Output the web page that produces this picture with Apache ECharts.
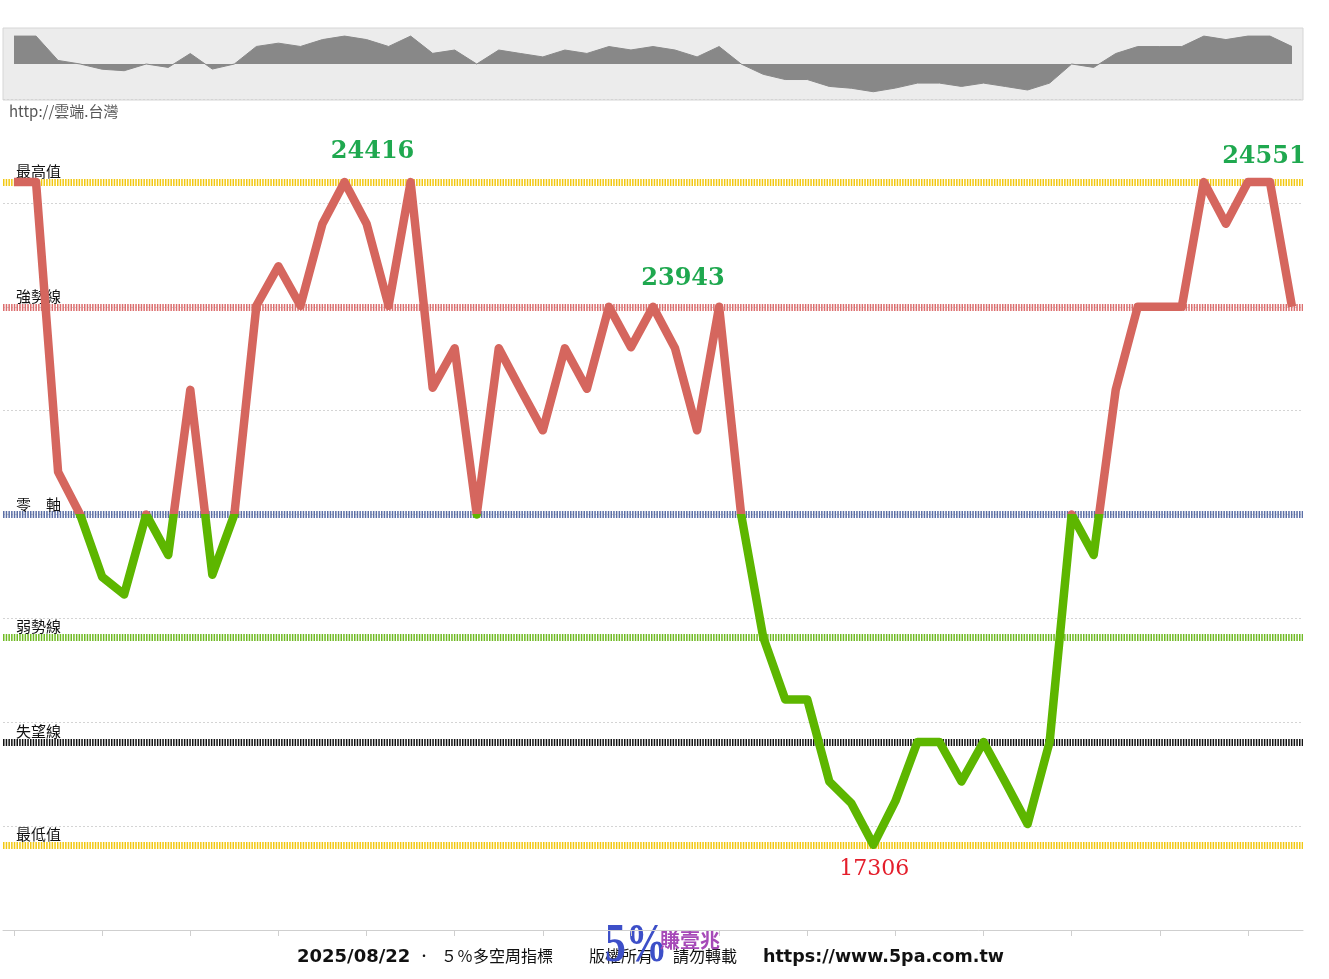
<!DOCTYPE html>
<html>
<head>
<meta charset="utf-8">
<script src="https://cdn.jsdelivr.net/npm/echarts@6/dist/echarts.min.js"></script>
<style>
html,body{margin:0;padding:0;background:#fff;}
#c{width:1329px;height:979px;}
</style>
</head>
<body>
<div id="c"></div>
<script>
// 5% 多空周指標 (weekly values)
const indicator = [
  3.20, 3.20, 0.41, 0.00, -0.60, -0.77, 0.00, -0.39, 1.20, -0.58,
  0.00, 2.01, 2.39, 2.01, 2.80, 3.20, 2.80, 2.01, 3.20, 1.22,
  1.60, 0.00, 1.60, 1.20, 0.81, 1.60, 1.21, 2.00, 1.61, 2.00,
  1.60, 0.81, 2.00, 0.00, -1.18, -1.78, -1.78, -2.57, -2.78, -3.18,
  -2.76, -2.19, -2.19, -2.57, -2.19, -2.58, -2.98, -2.19, 0.00, -0.39,
  1.20, 2.00, 2.00, 2.00, 3.20, 2.80, 3.20, 3.20, 2.00
];
const weeks = indicator.map((_, i) => String(i + 1));

// reference levels
const levelNames  = ['最高值', '強勢線', '零　軸', '弱勢線', '失望線', '最低值'];
const levelValues = [3.20, 2.00, 0.00, -1.18, -2.19, -3.18];
const levelColors = ['#f2c811', '#dc6e6e', '#5b6fa6', '#6fba22', '#111111', '#f2c811'];

// index annotations (TAIEX level at marked weeks)
const highIdx    = [15, 29, 56];
const highLabels = ['24416', '23943', '24551'];
const lowIdx     = [39];
const lowLabels  = ['17306'];

const highOffsets = [[28, -30], [30, -28], [16, -25]];
const lowOffsets  = [[1, 24]];

const chart = echarts.init(document.getElementById('c'), null, {renderer: 'canvas'});

const markLineData = levelValues.map((v, i) => ({
  yAxis: v,
  name: levelNames[i],
  lineStyle: {color: levelColors[i], width: 7, type: [1.5, 1.2]},
  label: {formatter: levelNames[i]}
}));

const markPointData = highIdx.map((idx, k) => ({
  coord: [idx, indicator[idx]],
  value: highLabels[k],
  label: {
    offset: highOffsets[k],
    color: '#1fa84f',
    fontFamily: "Georgia, 'DejaVu Serif', serif",
    fontWeight: 'bold',
    fontSize: 24
  }
})).concat(lowIdx.map((idx, k) => ({
  coord: [idx, indicator[idx]],
  value: lowLabels[k],
  label: {
    offset: lowOffsets[k],
    color: '#e41e2b',
    fontFamily: "Georgia, 'DejaVu Serif', serif",
    fontWeight: 'normal',
    fontSize: 22
  }
})));

const maxAbs = Math.max.apply(null, indicator.map(Math.abs));

const option = {
  animation: false,
  backgroundColor: '#ffffff',
  grid: [
    {left: 3, right: 26, top: 99, bottom: 49, show: false},
    {left: 3, right: 26, top: 28, height: 72, show: true,
     backgroundColor: '#ececec', borderColor: '#d6d6d6', borderWidth: 1}
  ],
  xAxis: [
    {
      type: 'category', data: weeks, boundaryGap: true, gridIndex: 0,
      axisLine: {show: true, onZero: false, lineStyle: {color: '#cfcfcf', width: 1}},
      axisTick: {show: true, alignWithLabel: true, interval: 3, length: 6, lineStyle: {color: '#cfcfcf'}},
      axisLabel: {show: false},
      splitLine: {show: false}
    },
    {
      type: 'category', data: weeks, boundaryGap: true, gridIndex: 1, show: false,
      axisLine: {onZero: false}
    }
  ],
  yAxis: [
    {
      type: 'value', min: -4, max: 4, interval: 1, gridIndex: 0,
      axisLine: {show: false}, axisTick: {show: false}, axisLabel: {show: false},
      splitLine: {show: true, lineStyle: {color: '#d4d4d4', type: [2, 2], width: 1}}
    },
    {
      type: 'value', min: -maxAbs * 1.29, max: maxAbs * 1.29, gridIndex: 1, show: false,
      splitLine: {show: false}
    }
  ],
  visualMap: {
    show: false,
    type: 'piecewise',
    seriesIndex: 0,
    dimension: 1,
    pieces: [
      {gt: 0, lte: 10, color: '#d5665e'},
      {gte: -10, lte: 0, color: '#5db600'}
    ]
  },
  series: [
    {
      name: '多空周指標',
      type: 'line',
      data: indicator,
      xAxisIndex: 0, yAxisIndex: 0,
      symbol: 'none',
      z: 5,
      lineStyle: {width: 8.5, join: 'round', cap: 'butt'},
      markPoint: {
        symbol: 'circle', symbolSize: 1,
        itemStyle: {color: 'rgba(0,0,0,0)'},
        label: {show: true, position: 'inside', formatter: '{c}'},
        silent: true,
        data: markPointData
      }
    },
    {
      name: 'levels',
      type: 'line',
      data: indicator,
      xAxisIndex: 0, yAxisIndex: 0,
      symbol: 'none',
      z: 1,
      silent: true,
      lineStyle: {opacity: 0, width: 0},
      markLine: {
        z: 1,
        silent: true,
        symbol: ['none', 'none'],
        label: {
          show: true,
          position: 'insideStartTop',
          distance: [13, 3],
          color: '#111',
          fontSize: 15,
          fontFamily: "'Noto Sans CJK TC', sans-serif"
        },
        data: markLineData
      }
    },
    {
      name: 'shadow',
      type: 'line',
      data: indicator,
      xAxisIndex: 1, yAxisIndex: 1,
      symbol: 'none',
      silent: true,
      lineStyle: {color: '#888888', width: 1},
      areaStyle: {color: '#888888', opacity: 1}
    }
  ],
  graphic: [
    {type: 'text', left: 9, top: 104,
     style: {text: 'http://雲端.台灣', fill: '#555', font: "15px 'Noto Sans CJK TC', sans-serif"}},
    {type: 'text', left: 297, top: 948,
     style: {text: '2025/08/22', fill: '#111', font: "bold 18px 'DejaVu Sans', sans-serif"}},
    {type: 'text', left: 416, top: 948,
     style: {text: '．', fill: '#111', font: "16px 'Noto Sans CJK TC', sans-serif"}},
    {type: 'text', left: 441, top: 948,
     style: {text: '５％多空周指標', fill: '#111', font: "16px 'Noto Sans CJK TC', sans-serif"}},
    {type: 'text', left: 589, top: 948,
     style: {text: '版權所有', fill: '#111', font: "16px 'Noto Sans CJK TC', sans-serif"}},
    {type: 'text', left: 673, top: 948,
     style: {text: '請勿轉載', fill: '#111', font: "16px 'Noto Sans CJK TC', sans-serif"}},
    {type: 'text', left: 763, top: 948,
     style: {text: 'https://www.5pa.com.tw', fill: '#111', font: "bold 17.5px 'DejaVu Sans', sans-serif"}},
    {type: 'text', x: 605, y: 920, scaleX: 0.8, scaleY: 1.05,
     style: {text: '5%', fill: '#3d4fc8', font: "bold 52px 'Liberation Serif', serif"}},
    {type: 'text', left: 660, top: 930,
     style: {text: '賺壹兆', fill: '#a64ab8', font: "bold 20px 'Noto Sans CJK TC', sans-serif"}}
  ]
};

chart.setOption(option);
</script>
</body>
</html>
